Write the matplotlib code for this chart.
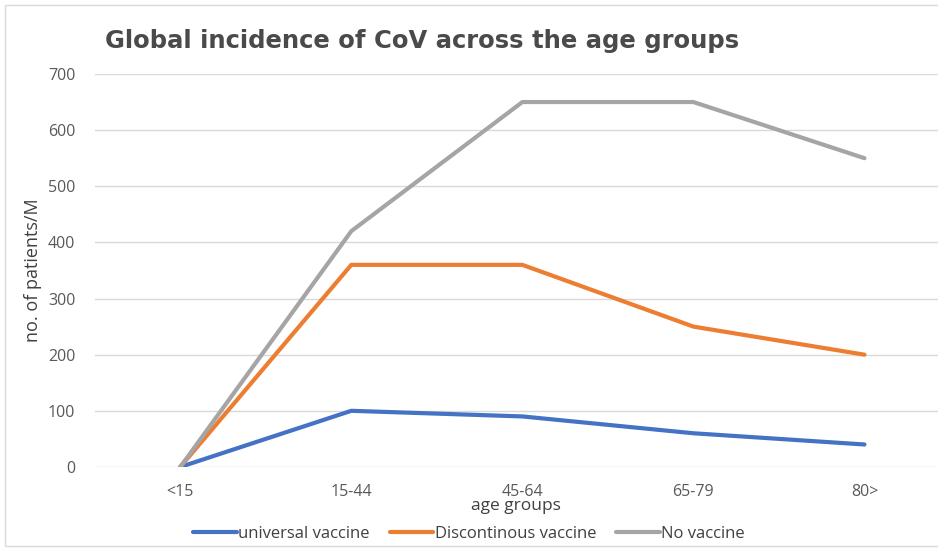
import matplotlib.pyplot as plt
from matplotlib.patches import Rectangle

plt.rcParams['font.family'] = ['Open Sans', 'DejaVu Sans']

# incidence per million, by age group
age_groups = ['<15', '15-44', '45-64', '65-79', '80>']
universal = [0, 100, 90, 60, 40]
discontinous = [0, 360, 360, 250, 200]
no_vaccine = [0, 420, 650, 650, 550]

series = [
    ('universal vaccine', universal, '#4472C4'),
    ('Discontinous vaccine', discontinous, '#ED7D31'),
    ('No vaccine', no_vaccine, '#A5A5A5'),
]

fig = plt.figure(figsize=(9.38, 5.5), dpi=100)
ax = fig.add_axes([0.101, 0.151, 0.899, 0.7145])

x = range(len(age_groups))
for label, vals, col in series:
    ax.plot(x, vals, color=col, lw=3, label=label, solid_capstyle='round')

ax.set_xlim(-0.5, 4.43)
ax.set_ylim(0, 700)
ax.set_yticks(range(0, 701, 100))
ax.set_xticks(list(x))
ax.set_xticklabels(age_groups)
ax.grid(axis='y', color='#D9D9D9', lw=1)
ax.set_axisbelow(True)
for s in ax.spines.values():
    s.set_visible(False)
ax.tick_params(length=0, labelsize=11.5, colors='#595959')
ax.tick_params(axis='y', pad=14)
ax.tick_params(axis='x', pad=12)

ax.set_ylabel('no. of patients/M', fontsize=13, color='#404040', labelpad=4)
ax.set_xlabel('age groups', fontsize=12.5, color='#404040', labelpad=-1)

fig.text(0.112, 0.925, 'Global incidence of CoV across the age groups',
         fontsize=17.5, fontweight='heavy', color='#4a4a4a',
         family=['DejaVu Sans'], va='center')

fig.legend(loc='center', bbox_to_anchor=(0.5, 0.03), ncol=3, frameon=False,
           fontsize=12, handlelength=2.6, handletextpad=0.1, columnspacing=1.2,
           labelcolor='#404040')

# light frame around the chart area
fig.patches.append(Rectangle((0.005, 0.008), 1.2, 0.983, transform=fig.transFigure,
                             fill=False, edgecolor='#D9D9D9', lw=1))

fig.savefig('out.png', dpi=100)
